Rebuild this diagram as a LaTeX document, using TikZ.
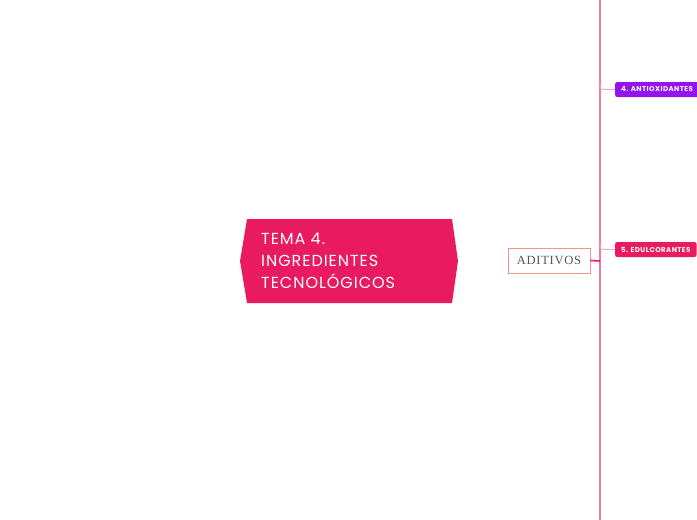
\documentclass[tikz,border=0pt]{standalone}
\usepackage{fontspec}
\setmainfont{Poppins}
\newfontfamily\mainsp{Poppins}[LetterSpace=6]
\newfontfamily\leafsp{Poppins}[LetterSpace=6]
\newfontfamily\serifadd{Liberation Serif}[LetterSpace=6]
\definecolor{crim}{HTML}{E91A5F}
\definecolor{purp}{HTML}{9414F0}
\definecolor{pinkline}{HTML}{F27AA4}
\definecolor{thinpink}{HTML}{F4A3BD}
\definecolor{salmon}{HTML}{F4948C}
\definecolor{txtgray}{HTML}{555555}
\begin{document}
\begin{tikzpicture}[x=1pt,y=-1pt,
  leaf/.style={rounded corners=2pt, inner xsep=6pt, inner ysep=0pt, minimum height=15pt, anchor=west, text=white, align=left, font=\leafsp\bfseries\fontsize{7}{8}\selectfont},
  branch/.style={draw=thinpink, line width=0.8pt, rounded corners=3pt}]
\useasboundingbox (0,0) rectangle (697,520);
\clip (0,0) rectangle (697,520);
% central hexagon
\fill[crim] (247,219) -- (452,219) -- (458,261) -- (452,303) -- (247,303) -- (240,261) -- cycle;
\node[anchor=north west, text=white, align=left, inner sep=0pt, font=\mainsp\fontsize{16}{22}\selectfont] (main) at (261,233) {TEMA 4.\\INGREDIENTES\\TECNOLÓGICOS};
% aditivos
\node[draw=salmon, line width=0.8pt, minimum width=82pt, minimum height=25pt, inner sep=0pt, text=txtgray, font=\serifadd\fontsize{12.5}{13}\selectfont] (adit) at (549,260.5) {ADITIVOS};
% vertical spine
\coordinate (top) at (600,0);
\coordinate (bot) at (600,520);
\draw[pinkline, line width=2pt] (top) -- (bot);
\coordinate (jn) at (600,261);
\draw[crim, line width=1.6pt] (adit.east) -- (jn);
% leaves
\node[leaf, fill=purp] (anti) at (615,89.5) {4. ANTIOXIDANTES};
\node[leaf, fill=crim] (edul) at (615,249.5) {5. EDULCORANTES};
\coordinate (ja) at (600,84);
\coordinate (je) at (600,244);
\draw[branch] (ja) |- (anti.west);
\draw[branch] (je) |- (edul.west);
\end{tikzpicture}
\end{document}
